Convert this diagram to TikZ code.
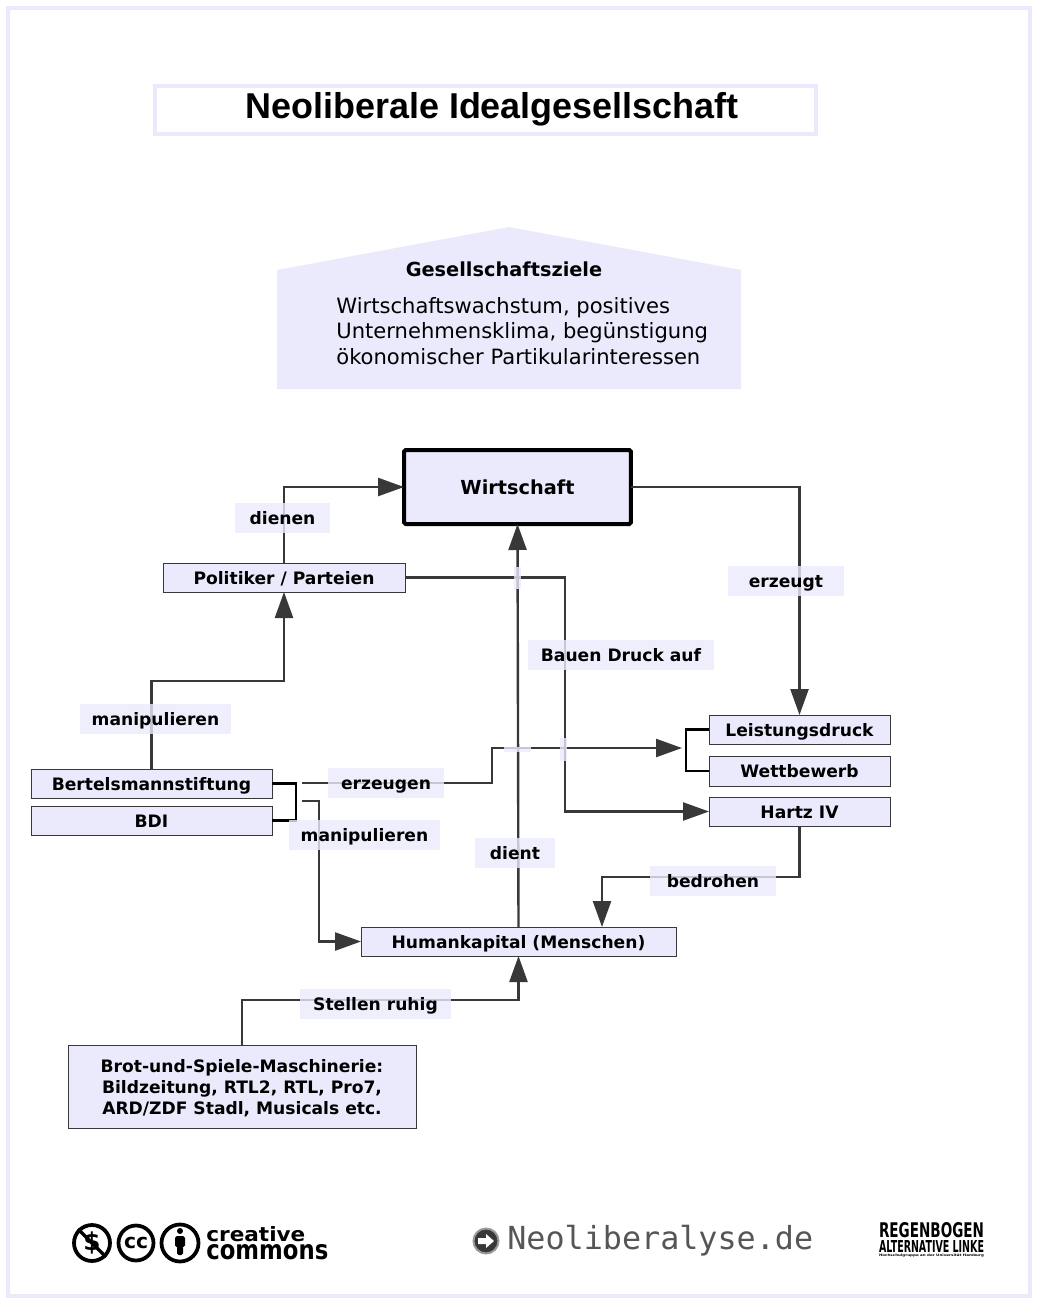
\documentclass[tikz,border=0pt]{standalone}
\usepackage{fontspec}
\usepackage{graphicx}
\usetikzlibrary{arrows.meta}
\setmainfont{DejaVu Sans}
\newfontfamily\titlefont{Liberation Sans}
\newfontfamily\monofont{DejaVu Sans Mono}
\definecolor{lav}{HTML}{EBEAFD}
\definecolor{ink}{HTML}{383838}

\begin{document}
\begin{tikzpicture}[x=0.02cm, y=-0.02cm,
    box/.style={draw=ink, line width=0.5pt, fill=lav, inner sep=0pt, outer sep=0pt, minimum height=0.58cm, text height=7.6pt, text depth=0pt, font=\fontsize{9.75}{11.9}\selectfont\bfseries, align=center},
    lab/.style={fill=lav, fill opacity=0.8, text opacity=1, inner sep=0pt, minimum height=0.6cm, text height=7.6pt, text depth=0pt, font=\fontsize{9.75}{11.9}\selectfont\bfseries},
    patch/.style={fill=lav, fill opacity=0.8, inner sep=0pt},
    n/.style={-{Triangle[length=0.52cm, width=0.36cm]}, draw=ink, line width=0.048cm},
    br/.style={draw=black, line width=0.055cm},
    icon/.style={circle, draw=black, line width=0.075cm, inner sep=0pt, fill=white}]
    \useasboundingbox (0,0) rectangle (1042,1306);
    % frame and title
    \node[draw=lav, line width=0.09cm, minimum width=20.44cm, minimum height=25.76cm, inner sep=0pt] (frame) at (519,652) {};
    \node[draw=lav, line width=0.08cm, minimum width=13.22cm, minimum height=0.96cm, inner sep=0pt] (title) at (485.5,110) {};
    \node[font=\fontsize{20.45}{23}\selectfont\titlefont\bfseries] (titletext) at (492,109.5) {Neoliberale Idealgesellschaft};
    % goals
    \fill[lav] (277,270) -- (509,227) -- (741,270) -- (741,389) -- (277,389) -- cycle;
    \node[font=\fontsize{11}{13}\selectfont\bfseries] (goalhead) at (504,269) {Gesellschaftsziele};
    \node[anchor=west, align=left, inner sep=0pt, font=\fontsize{12}{14.7}\selectfont] (goaltext) at (336,331) {Wirtschaftswachstum, positives\\Unternehmensklima, begünstigung\\ökonomischer Partikularinteressen};
    % nodes
    \node[box, draw=black, line width=0.08cm, rounded corners=1pt, minimum width=4.54cm, minimum height=1.48cm, text height=9pt, font=\fontsize{11}{13}\selectfont\bfseries] (wirt) at (517.5,487) {Wirtschaft};
    \node[box, minimum width=4.84cm] (pol) at (284,577.5) {Politiker / Parteien};
    \node[box, minimum width=4.82cm] (bert) at (151.5,783.5) {Bertelsmannstiftung};
    \node[box, minimum width=4.82cm] (bdi) at (151.5,820.5) {BDI};
    \node[box, minimum width=3.62cm] (lei) at (799.5,729.5) {Leistungsdruck};
    \node[box, minimum width=3.62cm, minimum height=0.6cm] (wett) at (799.5,771) {Wettbewerb};
    \node[box, minimum width=3.62cm] (hartz) at (799.5,811.5) {Hartz IV};
    \node[box, minimum width=6.3cm] (human) at (518.5,941.5) {Humankapital (Menschen)};
    \node[box, text height=, text depth=, minimum width=6.96cm, minimum height=1.66cm] (brot) at (242,1086.5) {\rule{0pt}{9.5pt}Brot-und-Spiele-Maschinerie:\\Bildzeitung, RTL2, RTL, Pro7,\\ARD/ZDF Stadl, Musicals etc.};
    \coordinate (erzstart) at (302,783);
    \coordinate (erzend) at (682,748);
    \coordinate (manstart) at (302,801);
    \coordinate (bedend) at (602,927);
    % brackets
    \draw[br] (bert.east) -- ++(24,0) |- (bdi.east);
    \draw[br] (lei.west) -- ++(-23,0) |- (wett.west);
    % edges
    \draw[n] (pol.north) |- (wirt.west);
    \draw[n] (wirt.east) -| (lei.north);
    \draw[n] (pol.east) -- ++(160,0) |- (hartz.west);
    \draw[n] (bert.north) -- ++(0,-88) -| (pol.south);
    \draw[n] (erzstart) -- ++(190,0) |- (erzend);
    \draw[n] (manstart) -- ++(17,0) |- (human.west);
    \draw[n] (human.north) -- (wirt.south);
    \draw[n] (hartz.south) -- ++(0,51) -| (bedend);
    \draw[n] (brot.north) -- ++(0,-45) -| (human.south);
    % labels
    \node[lab, minimum width=1.9cm] (dienen) at (282.5,518) {dienen};
    \node[lab, minimum width=2.32cm] (erzeugt) at (786,581) {erzeugt};
    \node[lab, minimum width=3.72cm] (bauen) at (621,655) {Bauen Druck auf};
    \node[lab, minimum width=3.02cm] (man1) at (155.5,718.5) {manipulieren};
    \node[lab, minimum width=2.32cm] (erzeugen) at (386,783) {erzeugen};
    \node[lab, minimum width=3.02cm] (man2) at (364.5,834.5) {manipulieren};
    \node[lab, minimum width=1.6cm] (dient) at (515,853) {dient};
    \node[lab, minimum width=2.52cm] (bedrohen) at (713,881) {bedrohen};
    \node[lab, minimum width=3.02cm] (ruhig) at (375.5,1003.5) {Stellen ruhig};
    % crossings
    \node[patch, minimum width=0.14cm, minimum height=0.44cm] (cross1) at (517.5,578) {};
    \node[patch, minimum width=0.54cm, minimum height=0.1cm] (cross2) at (517.5,749) {};
    \node[patch, minimum width=0.14cm, minimum height=0.46cm] (cross3) at (563.5,749.5) {};
    % footer
    \node[icon, minimum size=0.72cm] (nc) at (92,1243) {\fontsize{14}{14}\selectfont\bfseries\$};
    \draw[line width=0.07cm] (nc.north west) -- (nc.south east);
    \node[icon, minimum size=0.7cm, font=\fontsize{11.5}{12}\selectfont\bfseries] (cc) at (136,1243) {cc};
    \node[icon, minimum size=0.74cm] (by) at (180,1243) {};
    \fill (180,1231) circle (3);
    \fill[rounded corners=1] (175,1236) rectangle (185,1247) (177,1246) rectangle (183,1255);
    \node[anchor=west, inner sep=0pt, font=\bfseries] (ccone) at (206,1234.5) {\resizebox{1.98cm}{0.3cm}{creative}};
    \node[anchor=west, inner sep=0pt, font=\bfseries] (cctwo) at (206,1252) {\resizebox{2.44cm}{0.3cm}{commons}};
    \node[circle, fill=ink, draw=black!40, line width=0.04cm, minimum size=0.5cm, inner sep=0pt] (site) at (486,1241) {};
    \fill[white] (478,1238) -- (486,1238) -- (486,1234) -- (494,1241) -- (486,1248) -- (486,1244) -- (478,1244) -- cycle;
    \node[anchor=west, inner sep=0pt, text=ink!85, font=\fontsize{18.07}{20}\selectfont\monofont] (sitetext) at (507,1240.5) {Neoliberalyse.de};
    \node[inner sep=0pt, font=\bfseries] (reg1) at (931.5,1230.5) {\resizebox{2.1cm}{0.3cm}{REGENBOGEN}};
    \node[inner sep=0pt, font=\bfseries] (reg2) at (931.5,1246.5) {\resizebox{2.1cm}{0.24cm}{ALTERNATIVE LINKE}};
    \node[inner sep=0pt, font=\bfseries] (reg3) at (931.5,1255.5) {\resizebox{2.1cm}{0.05cm}{Hochschulgruppe an der Universität Hamburg}};
\end{tikzpicture}
\end{document}
